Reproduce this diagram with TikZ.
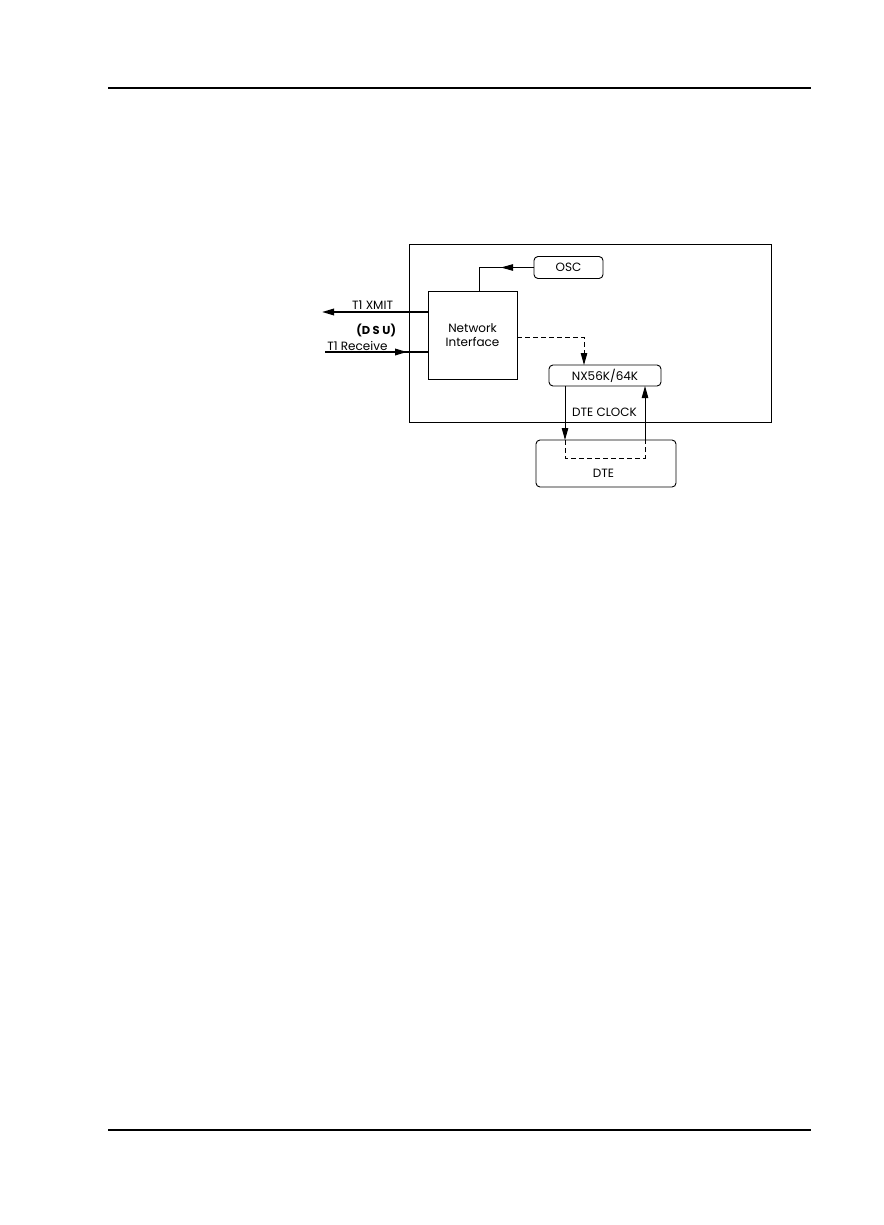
\documentclass[tikz,border=0pt]{standalone}
\usepackage{fontspec}
\setmainfont{Poppins}
\usetikzlibrary{arrows.meta,decorations.markings}
\begin{document}
\begin{tikzpicture}[x=1pt,y=-1pt,
  every node/.style={inner sep=0pt,outer sep=0pt},
  lbl/.style={font=\fontsize{12}{13.4}\selectfont},
  rbox/.style={draw,line width=0.9pt,rounded corners=4pt},
  thin/.style={line width=0.9pt},
  thickl/.style={line width=1.8pt},
  tip/.style={-{Triangle[length=12pt,width=6.5pt]}},
  dsh/.style={line width=0.9pt,dash pattern=on 5pt off 3pt}
]
\useasboundingbox (0,0) rectangle (883,1225);
% page rules
\coordinate (hrA) at (108,88); \coordinate (hrB) at (811,88);
\coordinate (frA) at (108,1130); \coordinate (frB) at (811,1130);
\draw[line width=2pt] (hrA) -- (hrB);
\draw[line width=2pt] (frA) -- (frB);
% boxes
\node[draw,line width=0.9pt,minimum width=362pt,minimum height=178pt] (dsu) at (590,333) {};
\node[draw,line width=0.9pt,minimum width=89pt,minimum height=88pt,align=center,lbl] (ni) at (472.5,335) {Network\\Interface};
\node[rbox,minimum width=69pt,minimum height=22pt,lbl] (osc) at (568.5,267.5) {OSC};
\node[rbox,minimum width=112pt,minimum height=21pt,lbl] (nx) at (605,375.5) {NX56K/64K};
\node[rbox,minimum width=140pt,minimum height=47pt] (dte) at (606,463.5) {};
\node[lbl] (dtet) at (603.5,473.5) {DTE};
% labels
\node[lbl,anchor=east] (xmitl) at (393,305) {T1 XMIT};
\node[lbl,anchor=east] (rxl) at (387.5,346) {T1 Receive};
\node[font=\fontsize{11.5}{13}\bfseries\selectfont,anchor=east] (dsul) at (396,330) {(D\hspace{2.6pt}S\hspace{2.6pt}U)};
\node[lbl] (clk) at (604.5,412.5) {DTE CLOCK};
% OSC to NI
\coordinate (oscc) at (479.5,267.5);
\draw[thin,postaction={decorate},decoration={markings,mark=at position 33pt with {\arrow{Triangle[length=12pt,width=6.5pt]}}}]
  (osc.west) -- (oscc) -- (oscc |- ni.north);
% T1 XMIT
\coordinate (xmitE) at (322,312);
\draw[thickl,tip] (ni.west |- xmitE) -- (xmitE);
% T1 Receive
\coordinate (rxS) at (325,352);
\draw[thickl,postaction={decorate},decoration={markings,mark=at position 82pt with {\arrow{Triangle[length=12pt,width=6.5pt]}}}]
  (rxS) -- (ni.west |- rxS);
% dashed NI -> NX
\coordinate (dc) at (584,337);
\draw[dsh,tip] (ni.east |- dc) -- (dc) -- (dc |- nx.north);
% DTE clock down
\coordinate (dl) at (565,458);
\coordinate (dr) at (645,458);
\draw[thin,tip] (dl |- nx.south) -- (dl |- dte.north);
\draw[dsh] (dl |- dte.north) -- (dl) -- (dr) -- (dr |- dte.north);
\draw[thin,tip] (dr |- dte.north) -- (dr |- nx.south);
\end{tikzpicture}
\end{document}
